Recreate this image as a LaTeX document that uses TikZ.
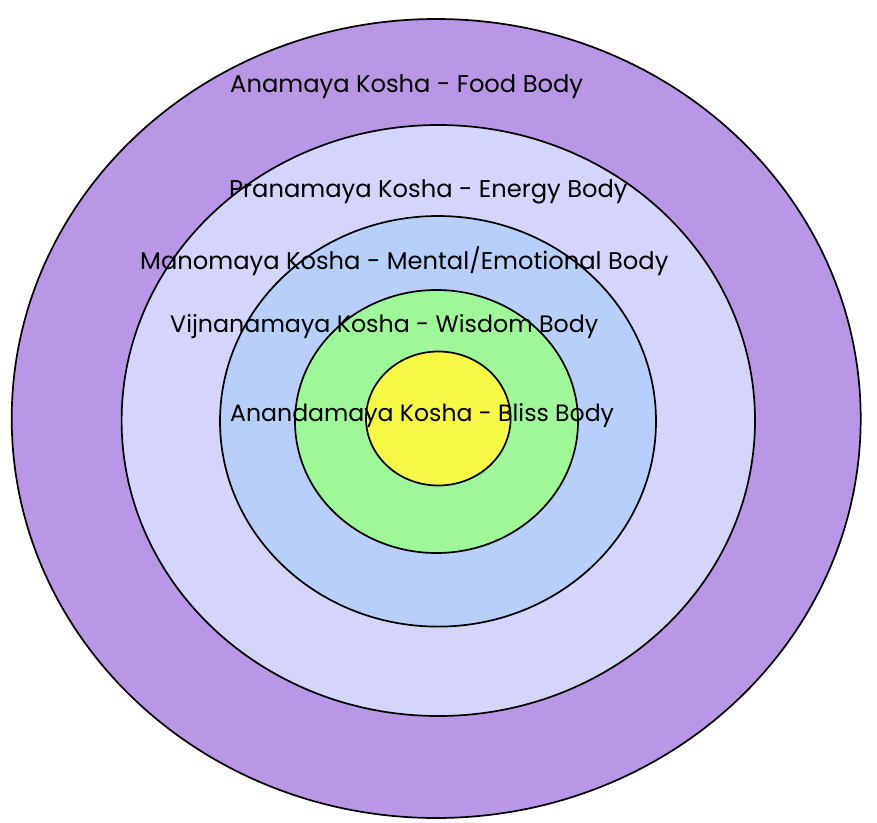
\documentclass[tikz,border=0pt]{standalone}
\usepackage{fontspec}
\setmainfont{Poppins}
\definecolor{food}{RGB}{184,152,230}
\definecolor{energy}{RGB}{213,213,252}
\definecolor{mental}{RGB}{183,207,250}
\definecolor{wisdom}{RGB}{158,248,152}
\definecolor{bliss}{RGB}{245,248,68}
\tikzset{
  layer/.style={draw=black, line width=1.7pt},
  label/.style={anchor=base west, inner sep=0pt, text=black, font=\fontsize{24.2}{28}\selectfont}
}
\begin{document}
\begin{tikzpicture}[x=1pt,y=-1pt]
\useasboundingbox (0,0) rectangle (877,822);
\fill[white] (0,0) rectangle (877,822);
\draw[layer, fill=food]   (436.2,418.5) ellipse [x radius=424.5, y radius=399.5];
\draw[layer, fill=energy] (438.3,420.5) ellipse [x radius=316.7, y radius=295.5];
\draw[layer, fill=mental] (438,421.3)   ellipse [x radius=218,   y radius=205.3];
\draw[layer, fill=wisdom] (436.5,421.5) ellipse [x radius=141.5, y radius=131.5];
\draw[layer, fill=bliss]  (438.3,418.5) ellipse [x radius=72.3,  y radius=67];
\node[label] (t1) at (230,92)  {Anamaya Kosha - Food Body};
\node[label] (t2) at (229,197) {Pranamaya Kosha - Energy Body};
\node[label] (t3) at (140,269) {Manomaya Kosha - Mental/Emotional Body};
\node[label, font=\fontsize{23.75}{28}\selectfont] (t4) at (170,332) {Vijnanamaya Kosha - Wisdom Body};
\node[label, font=\fontsize{23.6}{28}\selectfont] (t5) at (230,421) {Anandamaya Kosha - Bliss Body};
\end{tikzpicture}
\end{document}
